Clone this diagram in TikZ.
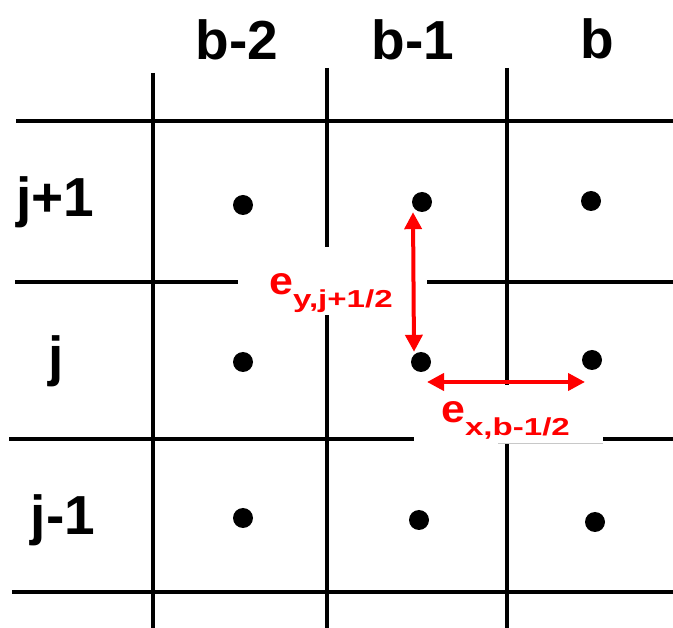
\documentclass[tikz,border=0pt]{standalone}
\usepackage{fontspec}
\usepackage{graphicx}
\setmainfont{Liberation Sans}
\usetikzlibrary{arrows.meta}
\definecolor{cred}{HTML}{FF0000}
\definecolor{cgrey}{HTML}{C8C8C8}

\tikzset{
  gridline/.style={black, line width=4.3pt},
  dot/.style={circle, fill=black, inner sep=0pt, minimum size=20pt},
  idxlabel/.style={anchor=base, inner sep=0pt, font=\fontsize{55}{55}\selectfont\bfseries},
  edgelabel/.style={anchor=base west, inner sep=0pt, text=cred, font=\fontsize{39}{39}\selectfont\bfseries},
  edgearrow/.style={cred, line width=4pt, {Triangle[length=17pt,width=17pt]}-{Triangle[length=17pt,width=17pt]}},
}
\newcommand{\subidx}[1]{\raisebox{-12.5pt}{\scalebox{1.35}[1]{\fontsize{24.5}{24.5}\selectfont #1}}}
\newcommand{\bige}{\scalebox{1.1}[1]{e}}

\begin{document}
\begin{tikzpicture}[x=1pt, y=-1pt]
  \useasboundingbox (0,0) rectangle (673,628);
  % grid lines
  \draw[gridline] (16,121) -- (673,121);
  \draw[gridline] (15,282) -- (673,282);
  \draw[gridline] (9,439) -- (673,439);
  \draw[gridline] (12,592) -- (673,592);
  \draw[gridline] (153,73) -- (153,628);
  \draw[gridline] (327,68) -- (327,628);
  \draw[gridline] (507,68) -- (507,628);
  % white patches behind the red labels
  \fill[white] (238,247) rectangle (427,315);
  \fill[white] (414,385) rectangle (603,443);
  \draw[cgrey, line width=1pt] (498,443.5) -- (603,443.5);
  % cell centres
  \foreach \n/\x/\y in {b2jp/243/205, b1jp/422/202, b0jp/591/201,
                        b2j/243/362, b1j/421/362, b0j/592/360,
                        b2jm/243/518, b1jm/419/520, b0jm/595/522}
    \node[dot] (\n) at (\x,\y) {};
  % column and row indices
  \node[idxlabel] (lb2) at (237,60) {b-2};
  \node[idxlabel] (lb1) at (413,60) {b-1};
  \node[idxlabel] (lb0) at (597,59) {b};
  \node[idxlabel] (ljp) at (55,217) {j+1};
  \node[idxlabel] (lj) at (56,376) {j};
  \node[idxlabel] (ljm) at (63,535) {j-1};
  % edge quantities
  \node[edgelabel] (ey) at (269,295) {\bige\subidx{y,j+1/2}};
  \node[edgelabel] (ex) at (441,423) {\bige\subidx{x,b-1/2}};
  \coordinate (exl) at (427,382);
  \coordinate (exr) at (585,382);
  \draw[edgearrow] ([xshift=-9pt]b1jp.south) -- ([xshift=-7pt]b1j.north);
  \draw[edgearrow] (exl) -- (exr);
\end{tikzpicture}
\end{document}
